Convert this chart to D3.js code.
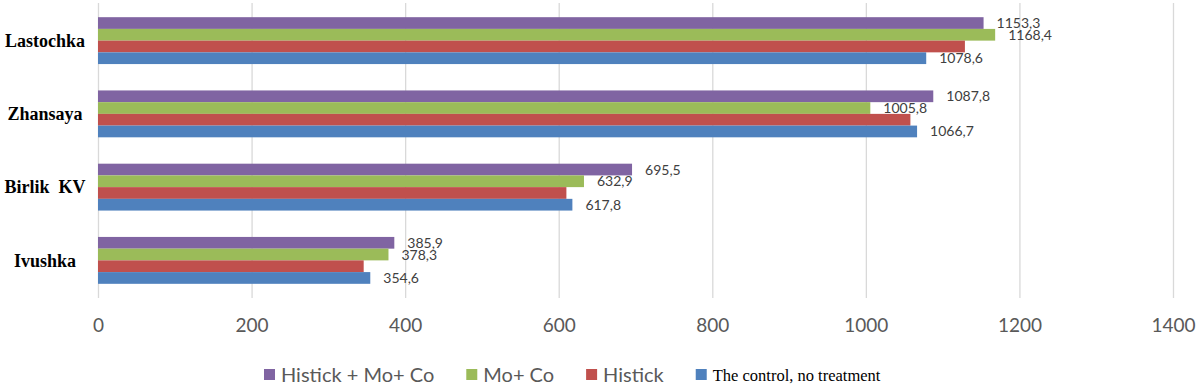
<!DOCTYPE html>
<html>
<head>
<meta charset="utf-8">
<script src="https://cdn.jsdelivr.net/npm/d3@7"></script>
<style>
  body { margin: 0; background: #fff; }
</style>
</head>
<body>
<div class="canvas"></div>
<script>
// data
const categories = ['Lastochka', 'Zhansaya', 'Birlik  KV', 'Ivushka']
const seriesNames = ['Histick + Mo+ Co', 'Mo+ Co', 'Histick', 'The control, no treatment']
const histickMoCo = [1153.3, 1087.8, 695.5, 385.9]
const moCo = [1168.4, 1005.8, 632.9, 378.3]
const histick = [1129, 1058, 610, 346]
const control = [1078.6, 1066.7, 617.8, 354.6]
const xTicks = [0, 200, 400, 600, 800, 1000, 1200, 1400]

const seriesValues = [histickMoCo, moCo, histick, control]
const colors = ['#8064a2', '#9bbb59', '#c0504d', '#4f81bd']
const showLabels = [true, true, false, true]

const width = 1200
const height = 390
const plotTop = 3
const plotBottom = 298

const svg = d3.select('.canvas')
    .append('svg')
    .attr('width', width)
    .attr('height', height)

// scales
const x = d3.scaleLinear().domain([0, 1400]).range([98, 1173])
const y = d3.scaleBand()
    .domain(categories)
    .range([4, 297])
    .paddingInner(0.36)
    .paddingOuter(0.18)
const ySeries = d3.scaleBand()
    .domain(seriesNames)
    .range([0, y.bandwidth()])

const comma = d3.formatLocale({ decimal: ',', thousands: '', grouping: [3], currency: ['', ''] }).format('.1f')

// grid + tick labels
const xAxis = d3.axisBottom(x)
    .tickValues(xTicks)
    .tickSize(-(plotBottom - plotTop))
    .tickPadding(21)
    .tickFormat(d3.format('d'))

const xAxisGroup = svg.append('g')
    .attr('transform', `translate(0, ${plotBottom})`)
    .call(xAxis)

xAxisGroup.select('.domain').remove()
xAxisGroup.selectAll('line').attr('stroke', '#d9d9d9').attr('stroke-width', 1.3)
xAxisGroup.selectAll('text')
    .attr('fill', '#595959')
    .attr('font-family', 'Lato, sans-serif')
    .attr('font-size', 19)

// bars
const rows = []
seriesNames.forEach((s, si) => {
    categories.forEach((c, ci) => {
        rows.push({ series: s, si: si, cat: c, value: seriesValues[si][ci] })
    })
})

svg.append('g').selectAll('rect')
    .data(rows)
    .enter()
    .append('rect')
        .attr('x', x(0))
        .attr('y', d => y(d.cat) + ySeries(d.series))
        .attr('width', d => x(d.value) - x(0))
        .attr('height', ySeries.bandwidth())
        .attr('fill', d => colors[d.si])

// value labels
svg.append('g').selectAll('text')
    .data(rows.filter(d => showLabels[d.si]))
    .enter()
    .append('text')
        .attr('x', d => x(d.value) + 13)
        .attr('y', d => y(d.cat) + ySeries(d.series) + ySeries.bandwidth() / 2)
        .attr('dy', '0.36em')
        .attr('fill', '#404040')
        .attr('font-family', 'Lato, sans-serif')
        .attr('font-size', 14)
        .text(d => comma(d.value))

// category labels
svg.append('g').selectAll('text')
    .data(categories)
    .enter()
    .append('text')
        .attr('x', 45)
        .attr('y', d => y(d) + y.bandwidth() / 2)
        .attr('dy', '0.35em')
        .attr('text-anchor', 'middle')
        .attr('font-family', '"Liberation Serif", serif')
        .attr('font-weight', 'bold')
        .attr('font-size', 18)
        .attr('fill', '#000')
        .style('white-space', 'pre')
        .text(d => d)

// legend
const legend = svg.append('g').attr('transform', 'translate(264, 375)')
let lx = 0
seriesNames.forEach((s, i) => {
    const isLast = i === seriesNames.length - 1
    legend.append('rect')
        .attr('x', lx)
        .attr('y', -6)
        .attr('width', 11)
        .attr('height', 11)
        .attr('fill', colors[i])
    const t = legend.append('text')
        .attr('x', lx + 17)
        .attr('y', 0)
        .attr('dy', '0.35em')
        .attr('fill', isLast ? '#000' : '#595959')
        .attr('font-family', isLast ? '"Liberation Serif", serif' : 'Lato, sans-serif')
        .attr('font-size', isLast ? 16.5 : 20)
        .text(s)
    lx += 17 + t.node().getComputedTextLength() + 32
})
</script>
</body>
</html>
